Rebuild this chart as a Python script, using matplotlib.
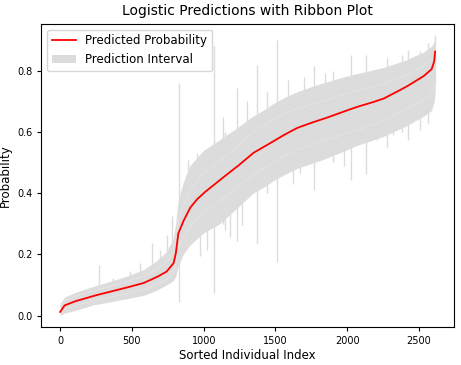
import matplotlib
matplotlib.use("Agg")
import matplotlib.pyplot as plt
import numpy as np

# ── values (index -> probability) ────────────────────────────────────────────
knot_idx = [0, 30, 100, 230, 350, 460, 580, 670, 740, 790,
            806, 822, 857, 904, 950, 1000, 1113, 1229, 1345, 1420,
            1484, 1560, 1647, 1740, 1833, 1950, 2065, 2160, 2251, 2330,
            2414, 2470, 2530, 2588, 2605, 2612]
pred_prob = [0.012, 0.033, 0.046, 0.064, 0.078, 0.091, 0.106, 0.125, 0.143, 0.171,
             0.204, 0.267, 0.307, 0.351, 0.378, 0.400, 0.443, 0.485, 0.531, 0.551,
             0.569, 0.590, 0.612, 0.628, 0.642, 0.662, 0.681, 0.694, 0.708, 0.727,
             0.748, 0.764, 0.781, 0.805, 0.830, 0.862]
# outer edge of the shaded interval
band_upper = [0.040, 0.060, 0.075, 0.095, 0.112, 0.128, 0.150, 0.178, 0.208, 0.255,
              0.305, 0.375, 0.435, 0.490, 0.515, 0.540, 0.575, 0.612, 0.652, 0.672,
              0.692, 0.712, 0.730, 0.746, 0.760, 0.776, 0.790, 0.800, 0.810, 0.822,
              0.835, 0.848, 0.860, 0.880, 0.895, 0.905]
band_lower = [0.000, 0.008, 0.016, 0.035, 0.045, 0.055, 0.066, 0.082, 0.100, 0.115,
              0.130, 0.160, 0.200, 0.230, 0.250, 0.270, 0.300, 0.350, 0.400, 0.420,
              0.440, 0.460, 0.480, 0.495, 0.510, 0.532, 0.555, 0.570, 0.585, 0.602,
              0.620, 0.635, 0.650, 0.670, 0.700, 0.730]
# faint lighter lines visible inside the interval
inner_upper = [0.028, 0.048, 0.062, 0.080, 0.095, 0.110, 0.128, 0.150, 0.175, 0.210,
               0.250, 0.310, 0.360, 0.410, 0.438, 0.465, 0.505, 0.550, 0.600, 0.620,
               0.640, 0.658, 0.675, 0.688, 0.700, 0.718, 0.735, 0.745, 0.755, 0.770,
               0.785, 0.800, 0.815, 0.835, 0.845, 0.855]
inner_lower = [0.008, 0.020, 0.032, 0.048, 0.060, 0.072, 0.085, 0.100, 0.118, 0.140,
               0.165, 0.220, 0.255, 0.290, 0.312, 0.335, 0.375, 0.415, 0.460, 0.480,
               0.500, 0.520, 0.540, 0.555, 0.570, 0.588, 0.605, 0.620, 0.635, 0.655,
               0.675, 0.690, 0.705, 0.725, 0.745, 0.760]

# spikes of the interval poking out of the band: (index, low, high)
spike_idx = [272, 370, 486, 555, 637, 695, 741, 776, 830, 892,
             950, 973, 1020, 1071, 1132, 1150, 1183, 1229, 1264, 1300,
             1373, 1440, 1512, 1589, 1620, 1670, 1700, 1768, 1845, 1900,
             1980, 2023, 2130, 2205, 2280, 2321, 2380, 2425, 2507, 2560,
             2611]
spike_low = [0.060, 0.070, 0.090, 0.100, 0.110, 0.120, 0.140, 0.160, 0.045, 0.300,
             0.350, 0.193, 0.215, 0.073, 0.300, 0.280, 0.258, 0.242, 0.296, 0.450,
             0.237, 0.400, 0.176, 0.500, 0.430, 0.466, 0.550, 0.410, 0.600, 0.500,
             0.490, 0.443, 0.463, 0.574, 0.550, 0.590, 0.600, 0.574, 0.607, 0.630,
             0.750]
spike_high = [0.166, 0.123, 0.144, 0.172, 0.237, 0.215, 0.264, 0.324, 0.760, 0.509,
              0.530, 0.400, 0.410, 0.881, 0.650, 0.600, 0.470, 0.743, 0.500, 0.700,
              0.819, 0.730, 0.899, 0.770, 0.720, 0.620, 0.780, 0.814, 0.792, 0.800,
              0.780, 0.852, 0.852, 0.803, 0.840, 0.720, 0.850, 0.868, 0.863, 0.890,
              0.917]

n_points = 2613

x = np.arange(n_points)
pred = np.interp(x, knot_idx, pred_prob)
upper = np.interp(x, knot_idx, band_upper)
lower = np.interp(x, knot_idx, band_lower)
in_up = np.interp(x, knot_idx, inner_upper)
in_lo = np.interp(x, knot_idx, inner_lower)

band_color = "#dcdcdc"

fig = plt.figure(figsize=(4.61, 3.65), dpi=100)
ax = fig.add_axes([0.090, 0.103, 0.895, 0.832])

ax.fill_between(x, lower, upper, color=band_color, lw=0,
                label="Prediction Interval")
ax.vlines(spike_idx, spike_low, spike_high, color=band_color, lw=1.0)
ax.plot(x, in_up, color="#e9e9e9", lw=0.6, ls=(0, (2, 1)))
ax.plot(x, in_lo, color="#e9e9e9", lw=0.6, ls=(0, (2, 1)))
ax.plot(x, pred, color="red", lw=1.3, label="Predicted Probability")

ax.set_xlim(-130, 2744)
ax.set_ylim(-0.0386, 0.953)
ax.set_title("Logistic Predictions with Ribbon Plot", fontsize=10)
ax.set_xlabel("Sorted Individual Index", fontsize=8.5, labelpad=2)
ax.set_ylabel("Probability", fontsize=8.5, labelpad=4)
ax.tick_params(labelsize=7, length=3)
ax.set_xticks([0, 500, 1000, 1500, 2000, 2500])
ax.set_yticks([0.0, 0.2, 0.4, 0.6, 0.8])

handles, labels = ax.get_legend_handles_labels()
ax.legend(handles[::-1], labels[::-1], loc="upper left", fontsize=8.5)

fig.savefig("out.png", dpi=100)
